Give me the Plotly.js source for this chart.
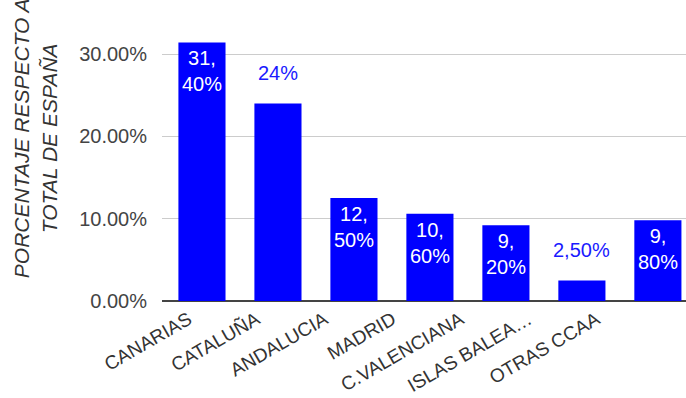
<!DOCTYPE html>
<html><head><meta charset="utf-8">
<script src="https://cdn.plot.ly/plotly-3.0.1.min.js"></script>
<style>html,body{margin:0;padding:0;background:#fff;overflow:hidden}#chart{width:686px;height:398px}</style>
</head><body><div id="chart"></div>
<script>
const categories = ["CANARIAS","CATALUÑA","ANDALUCIA","MADRID","C.VALENCIANA","ISLAS BALEA…","OTRAS CCAA"];
const values = [31.4, 24, 12.5, 10.6, 9.2, 2.5, 9.8];
const labels = ["31,<br>40%","24%","12,<br>50%","10,<br>60%","9,<br>20%","2,50%","9,<br>80%"];
const labelInside = [true,false,true,true,true,false,true];
const yTickVals = [0,10,20,30];
const yTickText = ["0.00%","10.00%","20.00%","30.00%"];

const trace = {
  type:'bar', x:categories, y:values,
  marker:{color:'#0000ff'}, hoverinfo:'none'
};
// invisible trace on a second x axis that carries the slanted category labels
const labelTrace = {
  type:'scatter', mode:'none', x:categories, y:values.map(()=>0), xaxis:'x2', yaxis:'y', hoverinfo:'none'
};
const annotations = categories.map((c,i)=>({
  x:c, y:values[i], xref:'x', yref:'y',
  text:labels[i], showarrow:false,
  yanchor: labelInside[i] ? 'top':'bottom',
  yshift: labelInside[i] ? -3 : 17,
  font:{family:'Liberation Sans, Arial, sans-serif', size:20, color: labelInside[i] ? '#ffffff' : '#1a1aff'}
}));
annotations.push({
  xref:'paper', yref:'paper', x:-0.241, y:0.54, xanchor:'center', yanchor:'middle',
  text:'<i>PORCENTAJE RESPECTO A<br>TOTAL DE ESPAÑA</i>', textangle:-90, showarrow:false,
  font:{family:'Liberation Sans, Arial, sans-serif', size:21, color:'#333'}
});
const layout = {
  width:686, height:398,
  margin:{l:162, r:0, t:0, b:97},
  paper_bgcolor:'#fff', plot_bgcolor:'#fff',
  bargap:0.38, showlegend:false,
  font:{family:'Liberation Sans, Arial, sans-serif', color:'#444'},
  xaxis:{range:[-0.526, 6.37], showticklabels:false,
         showgrid:false, showline:false, zeroline:false, fixedrange:true},
  xaxis2:{overlaying:'x', anchor:'y', side:'bottom', range:[-0.39, 7.316], tickangle:-30,
          tickfont:{size:19, color:'#333'}, ticklabelstandoff:3,
          showgrid:false, showline:false, zeroline:false, fixedrange:true},
  yaxis:{range:[0, 36.56], tickvals:yTickVals, ticktext:yTickText, tickfont:{size:20, color:'#444'},
         showgrid:true, gridcolor:'#cccccc', gridwidth:1, zeroline:true, zerolinecolor:'#444', zerolinewidth:2,
         showline:false, ticklabelstandoff:14, fixedrange:true},
  annotations:annotations
};
Plotly.newPlot('chart',[trace, labelTrace],layout,{displayModeBar:false, staticPlot:true});
</script></body></html>
